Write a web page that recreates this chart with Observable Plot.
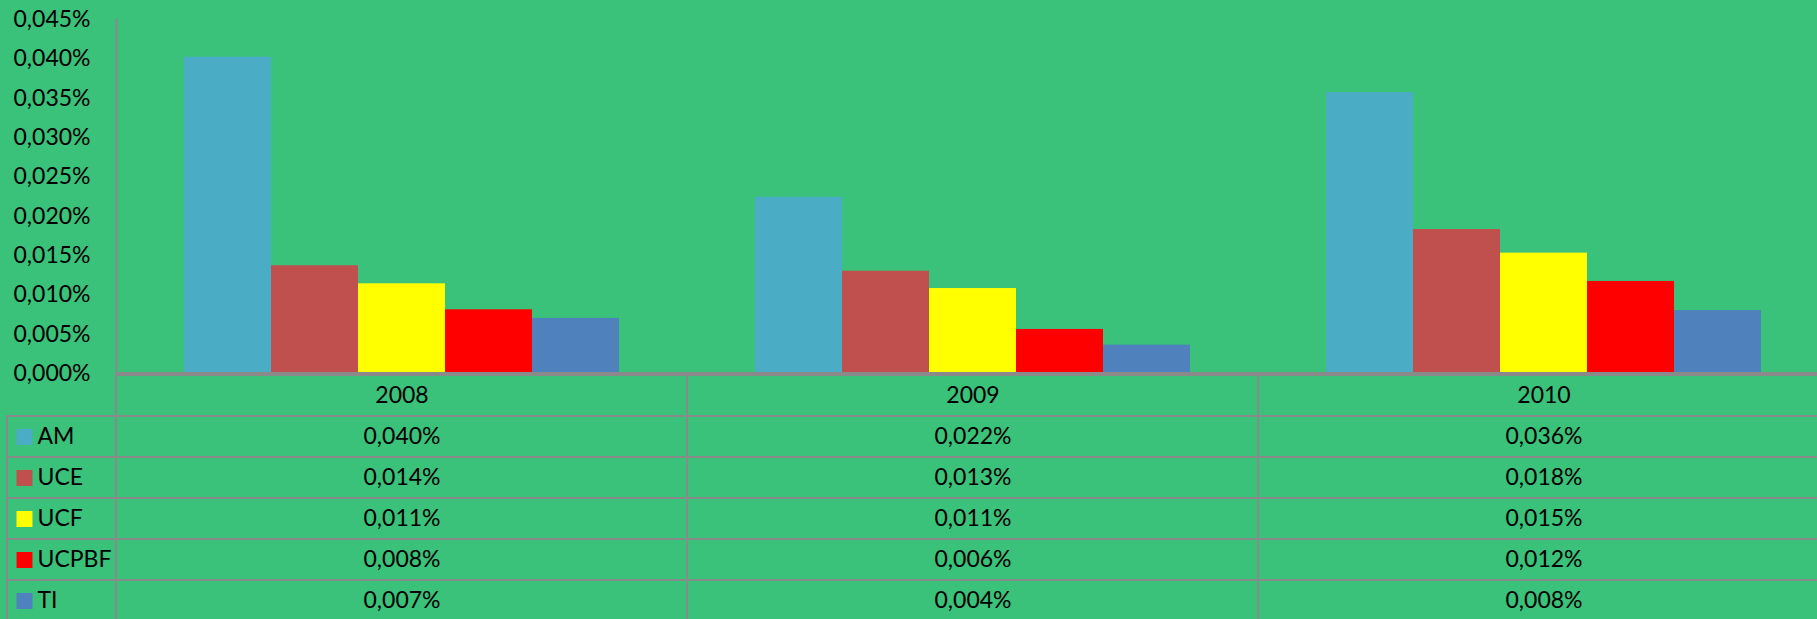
<!DOCTYPE html>
<html>
<head>
<meta charset="utf-8">
<script src="https://cdn.jsdelivr.net/npm/d3@7"></script>
<script src="https://cdn.jsdelivr.net/npm/@observablehq/plot@0.6"></script>
<style>
  html, body { margin: 0; padding: 0; background: #3AC17A; overflow: hidden; width: 1817px; height: 619px; }
  #wrap { position: relative; width: 1817px; height: 619px; overflow: hidden; }
  #chart { position: absolute; left: 0; top: 0; width: 1830px; }
  #table { position: absolute; left: 0; top: 360px; width: 1830px; }
  svg { max-width: none !important; }
</style>
</head>
<body>
<div id="wrap"><div id="table"></div><div id="chart"></div></div>
<script>
// ---- data (values in percent) ----
const years = ["2008", "2009", "2010"];
const series = ["AM", "UCE", "UCF", "UCPBF", "TI"];
const colors = ["#4BACC6", "#C0504D", "#FFFF00", "#FF0000", "#4F81BD"];
const AM    = [0.0402, 0.0224, 0.0357];
const UCE   = [0.0137, 0.0130, 0.0183];
const UCF   = [0.0114, 0.0108, 0.0153];
const UCPBF = [0.0081, 0.0056, 0.0117];
const TI    = [0.0070, 0.0036, 0.0080];
const yTicks = [0, 0.005, 0.010, 0.015, 0.020, 0.025, 0.030, 0.035, 0.040, 0.045];

const valuesBySeries = {AM, UCE, UCF, UCPBF, TI};
const data = [];
series.forEach(s => years.forEach((y, i) => data.push({series: s, year: y, value: valuesBySeries[s][i]})));

const fmt = v => v.toFixed(3).replace(".", ",") + "%";
const W = 1830, ML = 116, MR = 1;
const grid = "#8a8a8a";
const font = {fontFamily: "Lato, 'Open Sans', sans-serif", fontSize: "23px", background: "transparent", color: "black", overflow: "visible", maxWidth: "none"};

// ---- bar chart ----
const chart = Plot.plot({
  width: W, height: 375,
  marginLeft: ML, marginRight: MR, marginTop: 19, marginBottom: 2,
  style: font,
  fx: {domain: years, padding: 0, axis: null, label: null},
  x: {domain: series, paddingInner: 0, paddingOuter: 0.75, axis: null},
  y: {domain: [0, 0.045], axis: null},
  color: {domain: series, range: colors},
  marks: [
    Plot.barY(data, {fx: "year", x: "series", y: "value", fill: "series"}),
    Plot.frame({anchor: "left", facetAnchor: "left", stroke: grid, strokeWidth: 2}),
    Plot.ruleY([0], {stroke: grid, strokeWidth: 3}),
    Plot.axisY({ticks: yTicks, tickSize: 0, tickPadding: 26, tickFormat: fmt, label: null, fontSize: 23})
  ]
});
document.getElementById("chart").appendChild(chart);

// ---- data table ----
const rows = ["header", ...series];
const cells = [];
rows.forEach(r => years.forEach(y => cells.push({row: r, year: y})));
const texts = data.map(d => ({row: d.series, year: d.year, label: fmt(d.value)}))
  .concat(years.map(y => ({row: "header", year: y, label: y})));

const table = Plot.plot({
  width: W, height: 263,
  marginLeft: ML, marginRight: MR, marginTop: 13, marginBottom: 0,
  style: font,
  x: {domain: years, padding: 0, axis: null},
  y: {domain: rows, padding: 0, axis: null},
  color: {domain: series, range: colors},
  marks: [
    Plot.cell(cells, {x: "year", y: "row", fill: "none", stroke: grid, strokeWidth: 2}),
    Plot.cell(series, {y: d => d, fill: "none", stroke: grid, strokeWidth: 2,
      insetLeft: -(ML - 7), insetRight: W - ML - MR}),
    Plot.text(texts, {x: "year", y: "row", text: "label", fill: "black"}),
    Plot.dot(series, {y: d => d, frameAnchor: "left", dx: -92, symbol: "square", r: 9, fill: d => d}),
    Plot.text(series, {y: d => d, text: d => d, frameAnchor: "left", dx: -79, textAnchor: "start", fill: "black"})
  ]
});
document.getElementById("table").appendChild(table);
</script>
</body>
</html>
